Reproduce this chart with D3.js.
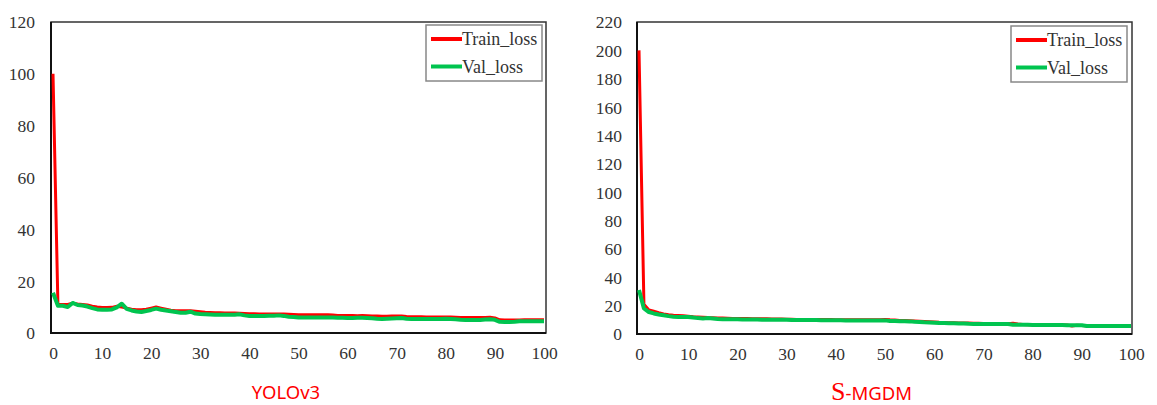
<!DOCTYPE html>
<html>
<head>
<meta charset="utf-8">
<script src="https://cdn.jsdelivr.net/npm/d3@7"></script>
<style>
  body { margin: 0; background: #fff; }
  .serif { font-family: "Liberation Serif", "DejaVu Serif", serif; }
  .sans { font-family: "Noto Sans", "Liberation Sans", sans-serif; }
</style>
</head>
<body>
<div id="chart"></div>
<script>
// epochs 0..100
const epochs = d3.range(0, 101);

// YOLOv3 losses
const yoloTrain = [100, 11, 11, 11, 11.5, 11.2, 11, 10.8, 10.3, 10, 9.8, 9.8, 9.9, 10.3, 10, 9.6, 9.2, 9, 9, 9.2,
  9.6, 10, 9.6, 9.2, 8.8, 8.6, 8.6, 8.6, 8.6, 8.4, 8.2, 8, 7.9, 7.8, 7.8, 7.7, 7.7, 7.7, 7.6, 7.5,
  7.4, 7.4, 7.3, 7.3, 7.3, 7.3, 7.3, 7.3, 7.2, 7.1, 7, 7, 7, 7, 7, 7, 7, 6.9, 6.8, 6.8,
  6.8, 6.8, 6.7, 6.8, 6.7, 6.6, 6.6, 6.5, 6.5, 6.6, 6.6, 6.6, 6.4, 6.3, 6.3, 6.3, 6.2, 6.2, 6.2, 6.2,
  6.2, 6.2, 6.1, 6, 6, 6, 6, 6, 6, 6.1, 5.8, 5.1, 5, 5, 5, 5, 5.1, 5.1, 5.1, 5.1, 5.1];
const yoloVal = [15.5, 10.5, 10.5, 10, 11.6, 10.8, 10.6, 10.2, 9.6, 9.1, 9, 9, 9.1, 9.9, 11.3, 9.3, 8.7, 8.3, 8.1, 8.5,
  8.9, 9.4, 9, 8.7, 8.4, 8.1, 7.8, 7.8, 8.2, 7.5, 7.3, 7.2, 7.1, 7, 7, 7, 7, 7, 7.2, 6.8,
  6.6, 6.6, 6.6, 6.6, 6.7, 6.7, 6.8, 6.6, 6.3, 6.2, 6, 6, 6, 6, 6, 6, 6, 6, 5.9, 5.9,
  5.8, 5.8, 5.9, 5.9, 5.8, 5.7, 5.5, 5.4, 5.5, 5.6, 5.7, 5.8, 5.5, 5.4, 5.4, 5.4, 5.4, 5.4, 5.4, 5.4,
  5.5, 5.4, 5.3, 5.1, 5, 5, 5, 5, 5.2, 5.3, 5.1, 4.3, 4.2, 4.2, 4.3, 4.5, 4.5, 4.5, 4.5, 4.5, 4.5];

// S-MGDM losses
const mgdmTrain = [200, 21, 17, 16, 15, 14.2, 13.6, 13.2, 13, 12.8, 12.5, 12.2, 12, 11.8, 11.6, 11.5, 11.3, 11.2, 11.1, 11,
  11, 11, 10.9, 10.8, 10.8, 10.8, 10.7, 10.6, 10.5, 10.5, 10.4, 10.4, 10.3, 10.3, 10.3, 10.3, 10.2, 10.2, 10.2, 10.2,
  10.1, 10.1, 10.1, 10.1, 10, 10, 10, 10, 10, 10, 10.3, 10, 9.8, 9.6, 9.5, 9.4, 9.2, 9, 8.8, 8.6,
  8.4, 8.2, 8.1, 8, 7.9, 7.8, 7.8, 7.7, 7.6, 7.5, 7.4, 7.3, 7.2, 7.2, 7.2, 7.2, 7.6, 7, 6.7, 6.6,
  6.6, 6.5, 6.5, 6.4, 6.4, 6.4, 6.3, 6.3, 5.6, 6.2, 6, 5.8, 5.8, 5.8, 5.8, 5.8, 5.8, 5.8, 5.8, 5.8, 5.8];
const mgdmVal = [31, 18, 15.5, 14.5, 13.8, 13.2, 12.6, 12.2, 12, 12, 12, 11.6, 11.2, 11, 11.2, 11, 10.6, 10.4, 10.4, 10.4,
  10.4, 10.3, 10.3, 10.2, 10.2, 10.1, 10.1, 10, 10, 10, 10, 9.9, 9.9, 9.8, 9.8, 9.8, 9.8, 9.7, 9.7, 9.7,
  9.7, 9.7, 9.6, 9.6, 9.6, 9.6, 9.6, 9.6, 9.6, 9.6, 9.6, 9.2, 9.1, 9, 9, 8.9, 8.6, 8.4, 8.2, 8.1,
  8, 7.8, 7.7, 7.6, 7.5, 7.4, 7.4, 7.2, 7.1, 7.1, 7, 7, 7, 7, 7, 7, 6.6, 6.5, 6.5, 6.5,
  6.4, 6.4, 6.4, 6.3, 6.3, 6.3, 6.3, 6.2, 6.2, 6.2, 6.2, 5.6, 5.6, 5.6, 5.6, 5.6, 5.6, 5.6, 5.6, 5.6, 5.6];

const xTicks = [0, 10, 20, 30, 40, 50, 60, 70, 80, 90, 100];
const yoloYTicks = [0, 20, 40, 60, 80, 100, 120];
const mgdmYTicks = [0, 20, 40, 60, 80, 100, 120, 140, 160, 180, 200, 220];
const seriesNames = ["Train_loss", "Val_loss"];
const seriesColors = ["#ff0000", "#00c44f"];

const svg = d3.select("#chart")
  .append("svg")
    .attr("width", 1157)
    .attr("height", 405);

function drawChart(cfg) {
  const x = d3.scaleLinear().domain([0, 100]).range(cfg.xRange);
  const y = d3.scaleLinear().domain([0, cfg.yMax]).range([cfg.bottom, cfg.top]);
  const g = svg.append("g");

  // frame
  g.append("rect")
    .attr("x", cfg.frame[0]).attr("y", cfg.top)
    .attr("width", cfg.frame[1] - cfg.frame[0]).attr("height", cfg.bottom - cfg.top)
    .attr("fill", "none").attr("stroke", "#333").attr("stroke-width", 1.5);
  g.append("path")
    .attr("d", `M${cfg.frame[0]},${cfg.top}V${cfg.bottom}H${cfg.frame[1]}`)
    .attr("fill", "none").attr("stroke", "#111").attr("stroke-width", 2);

  // axes
  const xAxis = g.append("g")
    .attr("transform", `translate(0,${cfg.bottom})`)
    .call(d3.axisBottom(x).tickValues(xTicks).tickSize(0).tickPadding(14));
  const yAxis = g.append("g")
    .attr("transform", `translate(${cfg.frame[0]},0)`)
    .call(d3.axisLeft(y).tickValues(cfg.yTicks).tickSize(0).tickPadding(cfg.yPad));
  [xAxis, yAxis].forEach(a => {
    a.attr("font-family", null).attr("font-size", null);
    a.select(".domain").remove();
    a.selectAll("text")
      .attr("class", "serif")
      .style("font-size", "17.5px")
      .attr("fill", "#333");
  });
  yAxis.selectAll("text").attr("dy", "0.34em");

  // lines
  const line = d3.line().x((d, i) => x(epochs[i])).y(d => y(d));
  [cfg.train, cfg.val].forEach((s, k) => {
    g.append("path")
      .datum(s)
      .attr("d", line)
      .attr("fill", "none")
      .attr("stroke", seriesColors[k])
      .attr("stroke-width", k == 0 ? 3 : 4)
      .attr("stroke-linejoin", "round");
  });

  // legend
  const lg = g.append("g").attr("transform", `translate(${cfg.legend[0]},${cfg.legend[1]})`);
  lg.append("rect")
    .attr("width", 116).attr("height", 56)
    .attr("fill", "#fff").attr("stroke", "#888").attr("stroke-width", 1.5);
  seriesNames.forEach((name, k) => {
    const yy = 14 + k * 27.5;
    lg.append("line")
      .attr("x1", 5).attr("x2", 36).attr("y1", yy).attr("y2", yy)
      .attr("stroke", seriesColors[k]).attr("stroke-width", 4);
    lg.append("text")
      .attr("class", "serif")
      .attr("x", 36).attr("y", yy + 6)
      .style("font-size", "18px")
      .attr("fill", "#333")
      .text(name);
  });
}

drawChart({
  frame: [51, 546], xRange: [53, 544], top: 22, bottom: 333, yMax: 120,
  yTicks: yoloYTicks, yPad: 16, train: yoloTrain, val: yoloVal, legend: [426, 25]
});
drawChart({
  frame: [637, 1132], xRange: [639, 1131], top: 22, bottom: 334, yMax: 220,
  yTicks: mgdmYTicks, yPad: 15, train: mgdmTrain, val: mgdmVal, legend: [1011, 26]
});

// titles
svg.append("text")
  .attr("class", "sans")
  .attr("x", 286).attr("y", 399)
  .attr("text-anchor", "middle")
  .style("font-size", "18.5px")
  .attr("fill", "#ff0000")
  .text("YOLOv3");

const t2 = svg.append("text")
  .attr("x", 831).attr("y", 400)
  .attr("fill", "#ff0000");
t2.append("tspan")
  .attr("class", "serif")
  .style("font-size", "26px")
  .text("S");
t2.append("tspan")
  .attr("class", "sans")
  .style("font-size", "18.5px")
  .text("-MGDM");
</script>
</body>
</html>
